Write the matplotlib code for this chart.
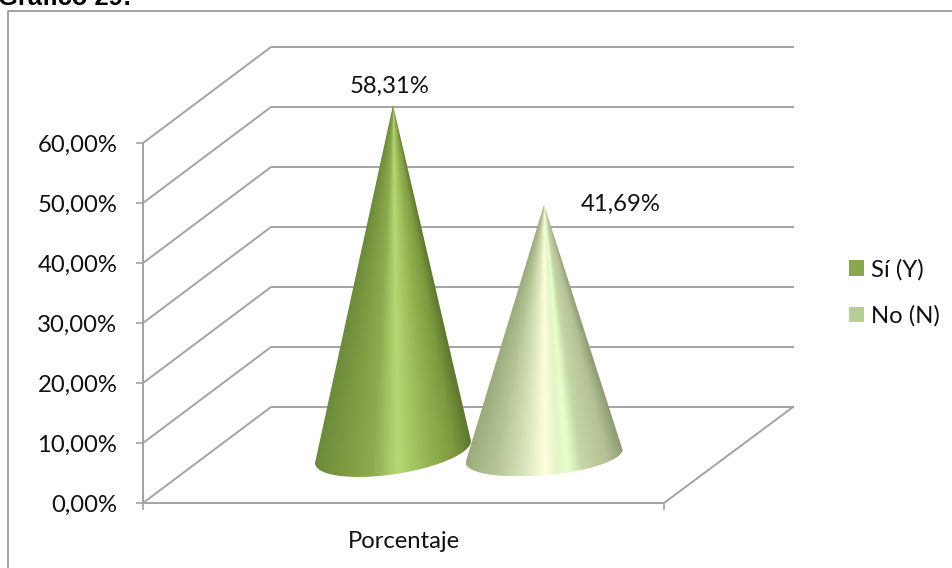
import numpy as np
import matplotlib
matplotlib.use("Agg")
import matplotlib.pyplot as plt
from matplotlib.colors import LinearSegmentedColormap
from matplotlib.lines import Line2D
from matplotlib.patches import Patch, Polygon

categories = ["Sí (Y)", "No (N)"]
values = [58.31, 41.69]
value_labels = ["58,31%", "41,69%"]
legend_colors = ["#8aa650", "#b8cd96"]
y_ticks = [0, 10, 20, 30, 40, 50, 60]
y_tick_labels = ["0,00%", "10,00%", "20,00%", "30,00%", "40,00%", "50,00%", "60,00%"]
x_label = "Porcentaje"
title = "Gráfico 29:"

W, H = 952, 568
LEFT, RIGHT, FLOOR, TOP = 143, 664, 503, 143
PX_PER_PCT = (FLOOR - TOP) / 60
DEPTH_X, DEPTH_Y = 128, 96 / PX_PER_PCT
LINE = "#a3a3a3"
FONT = "Lato"
FONT_SIZE = 17.2

# shading stops across each cone, -1 is the left edge and 1 the right edge
cone_shades = [
    [(-1, "#6b8a3a"), (-0.6, "#7f9b42"), (-0.25, "#8fab50"), (0.05, "#b5d975"),
     (0.27, "#a3c260"), (0.48, "#93b050"), (0.78, "#7e9a40"), (1, "#5f7a2e")],
    [(-1, "#9aa97a"), (-0.6, "#b4c394"), (-0.25, "#d8e4bb"), (0, "#fdfedc"),
     (0.17, "#e6f4c8"), (0.29, "#e8ffc8"), (0.46, "#c5d5a5"), (0.8, "#b3c094"), (1, "#8f9d73")],
]
# centre x, semi-width, base height shift, tilt and minor axis of each base, in pixels
cone_bases = [(393, 78, -3, 11, 22.4), (544, 78.5, 1, 6.5, 19.4)]
label_offsets = [(-3, 19), (77, 1)]


def draw_cone(ax, value, base, shades):
    cx, a, shift, tilt, b = base
    floor_mid = DEPTH_Y / 2
    apex = value + floor_mid
    t = np.linspace(np.pi, 2 * np.pi, 80)
    xs = cx + a * np.cos(t)
    # matplotlib y grows upward here, so the base arc dips below its centre
    ys = floor_mid - (shift - tilt * np.cos(t) - b * np.sin(t)) / PX_PER_PCT
    outline = np.column_stack([np.append(xs, cx), np.append(ys, apex)])
    clip = Polygon(outline, closed=True, transform=ax.transData, fc="none", ec="none")
    ax.add_patch(clip)

    # streaks converge on the apex, so shade by position within each row's width
    grid_x = np.linspace(cx - a, cx + a, 320)
    grid_y = np.linspace(apex, ys.min(), 400)
    half = a * np.maximum(apex - grid_y, 0.01) / (apex - floor_mid)
    shade = np.clip((grid_x[None, :] - cx) / half[:, None], -1, 1)
    cmap = LinearSegmentedColormap.from_list("cone", [((p + 1) / 2, c) for p, c in shades])
    im = ax.imshow(shade, cmap=cmap, vmin=-1, vmax=1, aspect="auto", origin="upper",
                   extent=(cx - a, cx + a, ys.min(), apex), zorder=3)
    im.set_clip_box(ax.figure.bbox)
    im.set_clip_path(clip)


fig = plt.figure(figsize=(W / 100, H / 100), dpi=100)

# frame only shows along the top and the left
fig.add_artist(Line2D([8 / W, 8 / W, 1], [0, 1 - 11 / H, 1 - 11 / H], color=LINE, lw=1.4))
fig.text(-2 / W, 1 - 5 / H, title, family="Liberation Sans", weight="bold", fontsize=18.4,
         va="baseline", ha="left")

ax = fig.add_axes([LEFT / W, 1 - FLOOR / H, (RIGHT - LEFT) / W, (FLOOR - TOP) / H])
ax.patch.set_alpha(0)

# gridlines run along the side wall and then across the back wall
for v in y_ticks:
    ax.plot([LEFT, LEFT + DEPTH_X, RIGHT + DEPTH_X + 1], [v, v + DEPTH_Y, v + DEPTH_Y],
            color=LINE, lw=1.4, clip_on=False, zorder=1)
ax.plot([RIGHT, RIGHT + DEPTH_X + 1], [0, DEPTH_Y], color=LINE, lw=1.4, clip_on=False, zorder=1)

for value, base, shades, text, off in zip(values, cone_bases, cone_shades, value_labels, label_offsets):
    draw_cone(ax, value, base, shades)
    ax.annotate(text, xy=(base[0], value + DEPTH_Y / 2),
                xytext=(off[0] * 0.72, off[1] * 0.72), textcoords="offset points",
                ha="center", va="center", family=FONT, fontsize=FONT_SIZE, color="#111111",
                annotation_clip=False, zorder=4)

ax.set_xlim(LEFT, RIGHT)
ax.set_ylim(0, 60)
ax.set_yticks(y_ticks, y_tick_labels, family=FONT, fontsize=FONT_SIZE, color="#111111")
ax.set_xticks([LEFT, RIGHT], ["", ""])
ax.set_xticks([403.5], [x_label], minor=True, family=FONT, fontsize=FONT_SIZE, color="#111111")
ax.tick_params(axis="both", which="major", color=LINE, length=5, width=1.2, pad=13.5)
ax.tick_params(axis="x", which="minor", length=0, pad=20.5)
for side in ["top", "right"]:
    ax.spines[side].set_visible(False)
for side in ["left", "bottom"]:
    ax.spines[side].set_color(LINE)
    ax.spines[side].set_linewidth(1.4)

handles = [Patch(facecolor=c, edgecolor="none", label=n) for c, n in zip(legend_colors, categories)]
fig.legend(handles=handles, loc="center left", bbox_to_anchor=(849 / W, 1 - 293 / H), frameon=False,
           prop={"family": FONT, "size": FONT_SIZE}, labelcolor="#111111", handlelength=0.63, handleheight=0.63,
           handletextpad=0.3, labelspacing=1.05, borderpad=0, borderaxespad=0)

fig.savefig("out.png", dpi=100)
